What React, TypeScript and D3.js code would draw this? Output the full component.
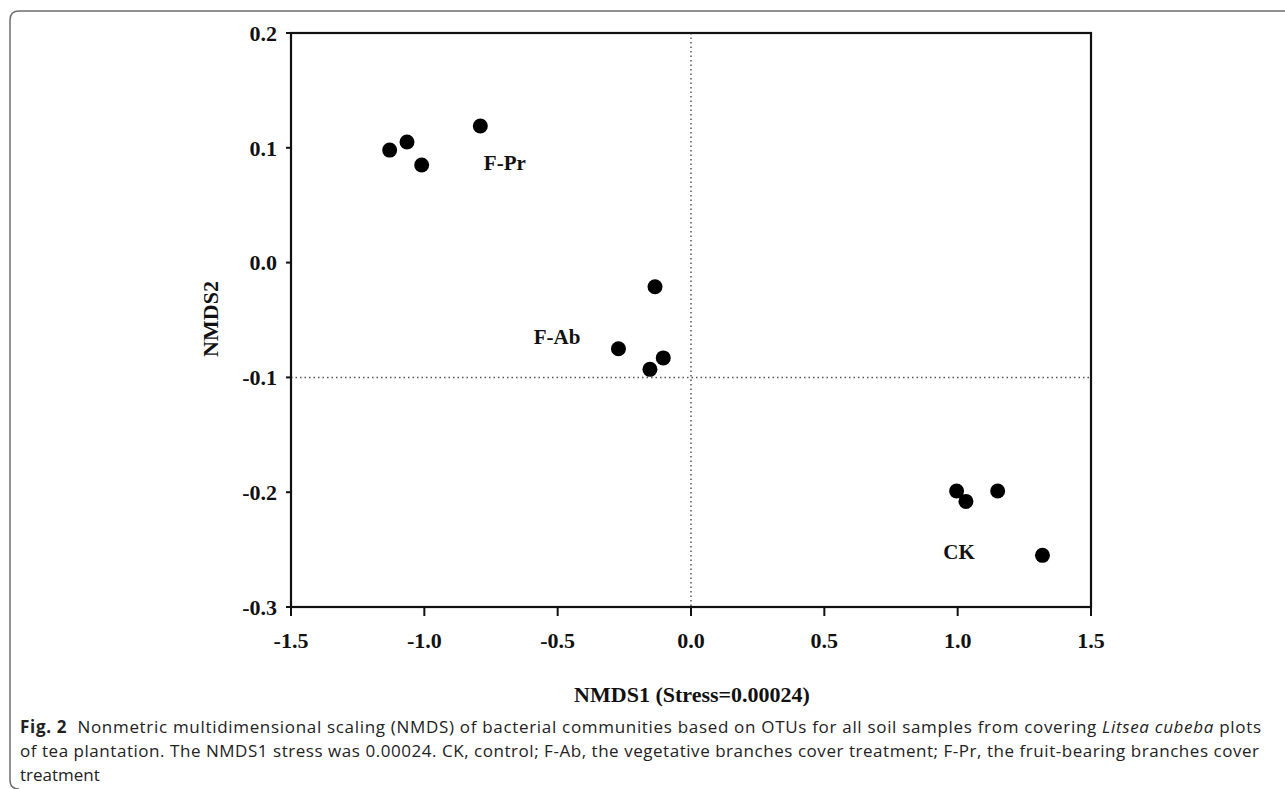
import { useEffect } from "react";
import * as d3 from "d3";

// sample scores
const groups = ["F-Pr", "F-Pr", "F-Pr", "F-Pr", "F-Ab", "F-Ab", "F-Ab", "F-Ab", "CK", "CK", "CK", "CK"];
const nmds1 = [-1.13, -1.065, -1.01, -0.79, -0.135, -0.272, -0.104, -0.154, 0.996, 1.031, 1.15, 1.318];
const nmds2 = [0.098, 0.105, 0.085, 0.119, -0.021, -0.075, -0.083, -0.093, -0.199, -0.208, -0.199, -0.255];

const labelNames = ["F-Pr", "F-Ab", "CK"];
const labelX = [-0.698, -0.502, 1.005];
const labelY = [0.081, -0.071, -0.258];

const xTicks = [-1.5, -1.0, -0.5, 0.0, 0.5, 1.0, 1.5];
const yTicks = [-0.3, -0.2, -0.1, 0.0, 0.1, 0.2];

const W = 1285;
const H = 789;
const MARGIN = { top: 33, right: 194, bottom: 182, left: 291 };

const fmt = (v: number) => d3.format(".1f")(v).replace("−", "-");

export default function App() {
  useEffect(() => {
    document.body.style.margin = "0";
  }, []);

  const x = d3.scaleLinear().domain([-1.5, 1.5]).range([MARGIN.left, W - MARGIN.right]);
  const y = d3.scaleLinear().domain([-0.3, 0.2]).range([H - MARGIN.bottom, MARGIN.top]);

  const serif = "'Liberation Serif', 'Times New Roman', serif";
  const sans = "'Open Sans', 'Noto Sans', sans-serif";

  return (
    <svg width={W} height={H} style={{ display: "block", background: "#fff" }}>
      {/* outer frame, open on the right */}
      <path d="M1285,11 H19 Q10,11 10,20 V780 Q10,789 19,789" fill="none" stroke="#6e6e6e" strokeWidth={1.5} />

      {/* reference lines */}
      <line x1={x(0)} x2={x(0)} y1={y(0.2)} y2={y(-0.3)} stroke="#555" strokeWidth={1.5} strokeDasharray="1.5,3" />
      <line x1={x(-1.5)} x2={x(1.5)} y1={y(-0.1)} y2={y(-0.1)} stroke="#555" strokeWidth={1.5} strokeDasharray="1.5,3" />

      {/* plot box */}
      <rect x={x(-1.5)} y={y(0.2)} width={x(1.5) - x(-1.5)} height={y(-0.3) - y(0.2)} fill="none" stroke="#111" strokeWidth={2.2} />

      {/* y axis */}
      {yTicks.map((t) => (
        <g key={"y" + t}>
          <line x1={x(-1.5) - 5} x2={x(-1.5)} y1={y(t)} y2={y(t)} stroke="#111" strokeWidth={2} />
          <text x={x(-1.5) - 14} y={y(t)} dy="0.35em" textAnchor="end" fontFamily={serif} fontWeight="bold" fontSize={22} fill="#111">
            {fmt(t)}
          </text>
        </g>
      ))}

      {/* x axis */}
      {xTicks.map((t) => (
        <g key={"x" + t}>
          <line x1={x(t)} x2={x(t)} y1={y(-0.3)} y2={y(-0.3) + 9} stroke="#111" strokeWidth={2} />
          <text x={x(t)} y={y(-0.3) + 41} textAnchor="middle" fontFamily={serif} fontWeight="bold" fontSize={22} fill="#111">
            {fmt(t)}
          </text>
        </g>
      ))}

      {/* points */}
      {nmds1.map((v, i) => (
        <circle key={i} cx={x(v)} cy={y(nmds2[i])} r={7.5} fill="#000" data-group={groups[i]} />
      ))}

      {/* group labels */}
      {labelNames.map((n, i) => (
        <text key={n} x={x(labelX[i])} y={y(labelY[i])} textAnchor="middle" fontFamily={serif} fontWeight="bold" fontSize={21} fill="#111">
          {n}
        </text>
      ))}

      {/* axis titles */}
      <text x={692} y={702} textAnchor="middle" fontFamily={serif} fontWeight="bold" fontSize={22} fill="#111">
        NMDS1 (Stress=0.00024)
      </text>
      <text transform="translate(218,319) rotate(-90)" textAnchor="middle" fontFamily={serif} fontWeight="bold" fontSize={22} fill="#111">
        NMDS2
      </text>

      {/* caption */}
      <text x={20} y={733} fontFamily={sans} fontSize={17} fill="#222" textLength={1241} lengthAdjust="spacing">
        <tspan fontWeight="bold">Fig. 2</tspan>
        <tspan>{"\u00a0\u00a0Nonmetric multidimensional scaling (NMDS) of bacterial communities based on OTUs for all soil samples from covering "}</tspan>
        <tspan fontStyle="italic">Litsea cubeba</tspan>
        <tspan> plots</tspan>
      </text>
      <text x={20} y={757} fontFamily={sans} fontSize={17} fill="#222" textLength={1239} lengthAdjust="spacing">
        of tea plantation. The NMDS1 stress was 0.00024. CK, control; F-Ab, the vegetative branches cover treatment; F-Pr, the fruit-bearing branches cover
      </text>
      <text x={20} y={781} fontFamily={sans} fontSize={17} fill="#222">
        treatment
      </text>
    </svg>
  );
}
